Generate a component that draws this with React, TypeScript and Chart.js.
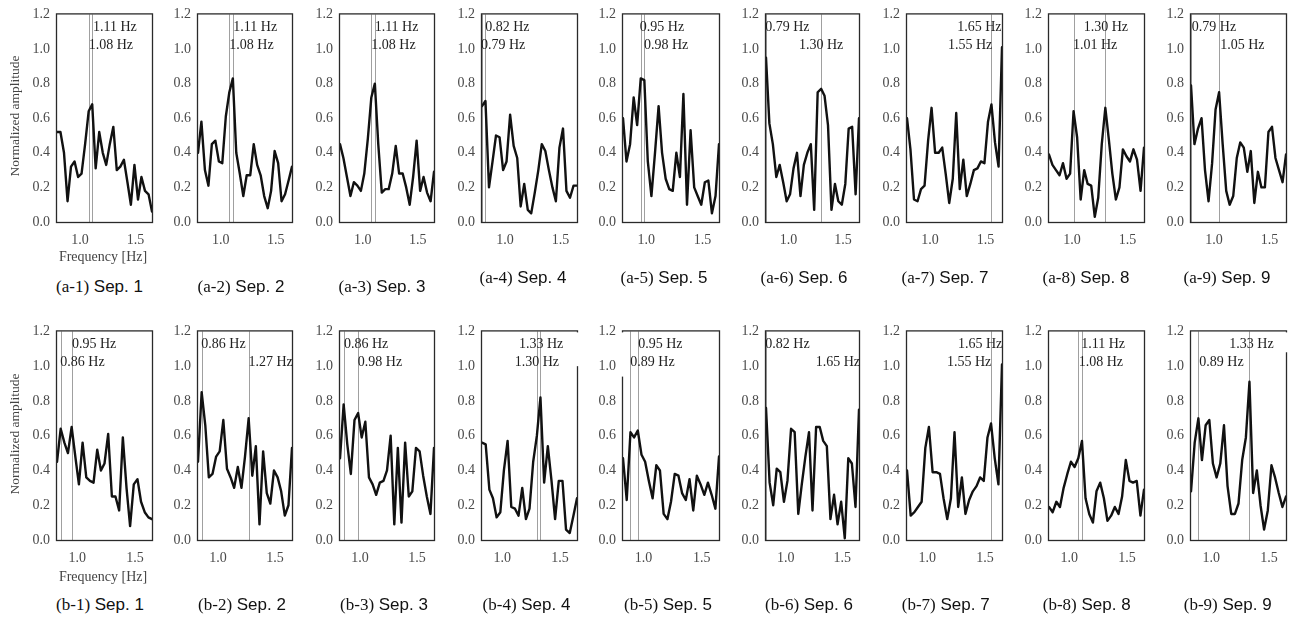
import React, { useEffect, useRef } from 'react';
import { Chart, registerables } from 'chart.js';

Chart.register(...registerables);

// ---------- data ----------
const FREQ_A = [0.793, 0.824, 0.856, 0.888, 0.919, 0.951, 0.983, 1.014, 1.046, 1.078, 1.110, 1.141, 1.173, 1.205, 1.236, 1.268, 1.300, 1.331, 1.363, 1.395, 1.427, 1.458, 1.490, 1.522, 1.553, 1.585, 1.617, 1.648];
const FREQ_B = [0.824, 0.856, 0.888, 0.919, 0.951, 0.983, 1.014, 1.046, 1.078, 1.110, 1.141, 1.173, 1.205, 1.236, 1.268, 1.300, 1.331, 1.363, 1.395, 1.427, 1.458, 1.490, 1.522, 1.553, 1.585, 1.617, 1.648];

const X_TICKS = [1.0, 1.5];
const Y_TICKS = [0.0, 0.2, 0.4, 0.6, 0.8, 1.0, 1.2];

const A1 = [0.52, 0.52, 0.40, 0.12, 0.32, 0.35, 0.26, 0.28, 0.45, 0.64, 0.68, 0.31, 0.52, 0.40, 0.33, 0.45, 0.55, 0.30, 0.32, 0.36, 0.23, 0.10, 0.33, 0.13, 0.26, 0.18, 0.16, 0.06];
const A2 = [0.40, 0.58, 0.30, 0.21, 0.45, 0.47, 0.35, 0.34, 0.61, 0.75, 0.83, 0.40, 0.28, 0.15, 0.27, 0.27, 0.45, 0.33, 0.27, 0.15, 0.08, 0.18, 0.41, 0.34, 0.12, 0.16, 0.24, 0.32];
const A3 = [0.45, 0.37, 0.26, 0.15, 0.23, 0.21, 0.18, 0.28, 0.48, 0.72, 0.80, 0.45, 0.17, 0.19, 0.19, 0.28, 0.44, 0.28, 0.28, 0.20, 0.10, 0.26, 0.47, 0.18, 0.26, 0.17, 0.12, 0.29];
const A4 = [0.67, 0.70, 0.20, 0.35, 0.50, 0.49, 0.30, 0.35, 0.62, 0.44, 0.37, 0.09, 0.22, 0.07, 0.05, 0.17, 0.30, 0.45, 0.41, 0.30, 0.20, 0.12, 0.43, 0.54, 0.18, 0.14, 0.21, 0.21];
const A5 = [0.60, 0.35, 0.45, 0.72, 0.56, 0.83, 0.82, 0.35, 0.15, 0.40, 0.67, 0.40, 0.25, 0.19, 0.18, 0.40, 0.26, 0.74, 0.10, 0.53, 0.20, 0.15, 0.10, 0.23, 0.24, 0.05, 0.15, 0.45];
const A6 = [0.95, 0.57, 0.45, 0.26, 0.33, 0.23, 0.12, 0.16, 0.31, 0.40, 0.15, 0.33, 0.40, 0.45, 0.07, 0.75, 0.77, 0.73, 0.56, 0.07, 0.22, 0.12, 0.10, 0.22, 0.54, 0.55, 0.16, 0.60];
const A7 = [0.60, 0.42, 0.13, 0.12, 0.19, 0.21, 0.47, 0.66, 0.40, 0.40, 0.43, 0.28, 0.11, 0.25, 0.63, 0.19, 0.36, 0.15, 0.22, 0.30, 0.31, 0.35, 0.34, 0.58, 0.68, 0.46, 0.32, 1.01];
const A8 = [0.39, 0.33, 0.30, 0.27, 0.34, 0.25, 0.28, 0.64, 0.49, 0.13, 0.30, 0.22, 0.21, 0.03, 0.14, 0.45, 0.66, 0.48, 0.28, 0.13, 0.20, 0.42, 0.38, 0.35, 0.42, 0.36, 0.18, 0.43];
const A9 = [0.79, 0.45, 0.54, 0.60, 0.30, 0.12, 0.34, 0.65, 0.75, 0.45, 0.18, 0.10, 0.15, 0.37, 0.46, 0.43, 0.29, 0.41, 0.11, 0.29, 0.20, 0.20, 0.52, 0.55, 0.37, 0.30, 0.23, 0.39];

const B1 = [0.45, 0.64, 0.56, 0.50, 0.65, 0.48, 0.32, 0.56, 0.36, 0.34, 0.33, 0.52, 0.40, 0.44, 0.61, 0.25, 0.25, 0.17, 0.59, 0.30, 0.08, 0.32, 0.35, 0.22, 0.16, 0.13, 0.12];
const B2 = [0.45, 0.85, 0.66, 0.36, 0.38, 0.48, 0.51, 0.69, 0.41, 0.36, 0.30, 0.42, 0.30, 0.48, 0.70, 0.37, 0.54, 0.09, 0.51, 0.27, 0.21, 0.40, 0.36, 0.28, 0.14, 0.20, 0.53];
const B3 = [0.47, 0.78, 0.55, 0.38, 0.69, 0.73, 0.59, 0.68, 0.36, 0.32, 0.26, 0.33, 0.34, 0.40, 0.60, 0.09, 0.53, 0.10, 0.56, 0.25, 0.28, 0.53, 0.51, 0.37, 0.25, 0.15, 0.53];
const B4 = [0.56, 0.55, 0.29, 0.24, 0.13, 0.16, 0.40, 0.57, 0.19, 0.18, 0.14, 0.30, 0.12, 0.18, 0.45, 0.60, 0.82, 0.33, 0.54, 0.34, 0.12, 0.34, 0.34, 0.06, 0.04, 0.14, 0.24];
const B5 = [0.47, 0.23, 0.62, 0.59, 0.63, 0.49, 0.45, 0.34, 0.24, 0.43, 0.40, 0.15, 0.12, 0.22, 0.38, 0.37, 0.27, 0.23, 0.35, 0.17, 0.37, 0.32, 0.26, 0.33, 0.26, 0.18, 0.48];
const B6 = [0.76, 0.33, 0.20, 0.41, 0.39, 0.22, 0.34, 0.64, 0.62, 0.15, 0.32, 0.48, 0.62, 0.17, 0.65, 0.65, 0.57, 0.54, 0.12, 0.26, 0.09, 0.22, 0.01, 0.47, 0.44, 0.19, 0.75];
const B7 = [0.40, 0.14, 0.16, 0.19, 0.22, 0.53, 0.65, 0.39, 0.39, 0.38, 0.24, 0.12, 0.24, 0.62, 0.19, 0.36, 0.15, 0.23, 0.28, 0.31, 0.36, 0.34, 0.59, 0.67, 0.47, 0.32, 1.01];
const B8 = [0.19, 0.16, 0.22, 0.19, 0.30, 0.38, 0.45, 0.42, 0.47, 0.57, 0.24, 0.15, 0.10, 0.28, 0.33, 0.24, 0.11, 0.14, 0.19, 0.15, 0.25, 0.46, 0.34, 0.33, 0.34, 0.14, 0.29];
const B9 = [0.28, 0.56, 0.70, 0.46, 0.66, 0.69, 0.44, 0.36, 0.44, 0.66, 0.31, 0.15, 0.15, 0.21, 0.46, 0.59, 0.91, 0.27, 0.40, 0.20, 0.06, 0.17, 0.43, 0.36, 0.27, 0.19, 0.25];

// identified peak frequencies (vertical lines) per panel
const PEAKS_A = [[1.078, 1.110], [1.078, 1.110], [1.078, 1.110], [0.793, 0.824], [0.951, 0.983], [0.793, 1.300], [1.648, 1.553], [1.300, 1.014], [0.793, 1.046]];
const PEAKS_B = [[0.951, 0.856], [0.856, 1.268], [0.856, 0.983], [1.331, 1.300], [0.951, 0.888], [0.824, 1.648], [1.648, 1.553], [1.110, 1.078], [1.331, 0.888]];

// peak labels (first line, second line)
const LABELS_A = [['1.11 Hz', '1.08 Hz'], ['1.11 Hz', '1.08 Hz'], ['1.11 Hz', '1.08 Hz'], ['0.82 Hz', '0.79 Hz'], ['0.95 Hz', '0.98 Hz'], ['0.79 Hz', '1.30 Hz'], ['1.65 Hz', '1.55 Hz'], ['1.30 Hz', '1.01 Hz'], ['0.79 Hz', '1.05 Hz']];
const LABELS_B = [['0.95 Hz', '0.86 Hz'], ['0.86 Hz', '1.27 Hz'], ['0.86 Hz', '0.98 Hz'], ['1.33 Hz', '1.30 Hz'], ['0.95 Hz', '0.89 Hz'], ['0.82 Hz', '1.65 Hz'], ['1.65 Hz', '1.55 Hz'], ['1.11 Hz', '1.08 Hz'], ['1.33 Hz', '0.89 Hz']];
// label anchor (left edge of text) on the frequency axis
const LABEL_X_A = [[1.117, 1.078], [1.114, 1.078], [1.108, 1.078], [0.822, 0.784], [0.943, 0.979], [0.786, 1.096], [1.245, 1.162], [1.105, 1.008], [0.800, 1.056]];
const LABEL_X_B = [[0.954, 0.853], [0.853, 1.266], [0.859, 0.980], [1.145, 1.108], [0.954, 0.887], [0.818, 1.264], [1.266, 1.171], [1.104, 1.082], [1.156, 0.896]];

const CAPTION_IDS_A = ['(a-1)', '(a-2)', '(a-3)', '(a-4)', '(a-5)', '(a-6)', '(a-7)', '(a-8)', '(a-9)'];
const CAPTION_IDS_B = ['(b-1)', '(b-2)', '(b-3)', '(b-4)', '(b-5)', '(b-6)', '(b-7)', '(b-8)', '(b-9)'];
const CAPTION_SEPS = ['Sep. 1', 'Sep. 2', 'Sep. 3', 'Sep. 4', 'Sep. 5', 'Sep. 6', 'Sep. 7', 'Sep. 8', 'Sep. 9'];

const SERIES_A = [A1, A2, A3, A4, A5, A6, A7, A8, A9];
const SERIES_B = [B1, B2, B3, B4, B5, B6, B7, B8, B9];

// ---------- layout ----------
const COL_LEFT = [57, 198, 340, 482, 623, 766, 907, 1049, 1191];
const COL_RIGHT = [152, 292, 434, 577, 719, 859, 1002, 1144, 1286];
const ROW_TOP = [9, 326];
const ROW_BOTTOM = [222, 540];
const CAP_X = [
  [99.5, 241, 382, 523, 664, 804, 945, 1086, 1227],
  [100, 242, 384, 526.5, 668, 809, 945.7, 1086.7, 1227.7],
];
const CAP_Y = [[287, 287, 287, 278, 278, 278, 278, 278, 278], [605, 605, 605, 605, 605, 605, 605, 605, 605]];
// white label boxes hiding part of the frame in a few panels
const MASKS: Record<string, { side: 'left' | 'right'; to: number }> = {
  '1-3': { side: 'right', to: 1.0 },
  '1-4': { side: 'left', to: 0.94 },
  '1-8': { side: 'right', to: 1.08 },
};

const SERIF = '"Liberation Serif", "Times New Roman", serif';
const SANS = '"Liberation Sans", Arial, sans-serif';

const PAD_L = 50, PAD_R = 10, PAD_T = 10, PAD_B = 40;

const decoPlugin = {
  id: 'deco',
  beforeDatasetsDraw(chart: any, _a: any, opts: any) {
    const { ctx, chartArea } = chart;
    const xs = chart.scales.x;
    ctx.save();
    ctx.strokeStyle = '#a0a0a0';
    ctx.lineWidth = 1;
    (opts.peaks || []).forEach((f: number) => {
      const x = Math.round(xs.getPixelForValue(f)) + 0.5;
      ctx.beginPath();
      ctx.moveTo(x, chartArea.top);
      ctx.lineTo(x, chartArea.bottom);
      ctx.stroke();
    });
    ctx.restore();
  },
  afterDatasetsDraw(chart: any, _a: any, opts: any) {
    const { ctx, chartArea } = chart;
    const xs = chart.scales.x;
    const ys = chart.scales.y;
    ctx.save();
    ctx.strokeStyle = '#2a2a2a';
    ctx.lineWidth = 1.3;
    ctx.strokeRect(chartArea.left - 0.5, chartArea.top - 0.5, chartArea.width + 1, chartArea.height + 1);
    if (opts.mask) {
      const x = opts.mask.side === 'right' ? chartArea.right + 0.5 : chartArea.left - 0.5;
      const yb = ys.getPixelForValue(opts.mask.to);
      ctx.fillStyle = '#ffffff';
      ctx.fillRect(x - 2, chartArea.top + 1, 4, yb - chartArea.top - 1);
    }
    ctx.fillStyle = '#222';
    ctx.font = `14px ${SERIF}`;
    ctx.textAlign = 'left';
    ctx.textBaseline = 'middle';
    const offs = [13, 30.5];
    (opts.labels || []).forEach((t: string, i: number) => {
      ctx.fillText(t, xs.getPixelForValue(opts.labelX[i]), chartArea.top + offs[i]);
    });
    ctx.restore();
  },
};

type PanelProps = {
  left: number; right: number; top: number; bottom: number;
  freq: number[]; values: number[]; peaks: number[]; labels: string[]; labelX: number[];
  mask?: { side: 'left' | 'right'; to: number };
};

function Panel(p: PanelProps) {
  const ref = useRef<HTMLCanvasElement>(null);
  const w = p.right - p.left + PAD_L + PAD_R;
  const h = p.bottom - p.top + PAD_T + PAD_B;
  useEffect(() => {
    const tickFont = { family: SERIF, size: 14 };
    const chart = new Chart(ref.current as HTMLCanvasElement, {
      type: 'line',
      data: {
        datasets: [{
          data: p.freq.map((f, i) => ({ x: f, y: p.values[i] })),
          borderColor: '#111',
          borderWidth: 2.4,
          pointRadius: 0,
          tension: 0,
          fill: false,
          borderJoinStyle: 'round',
          borderCapStyle: 'round',
        }],
      },
      options: {
        animation: false,
        responsive: false,
        devicePixelRatio: 1,
        events: [],
        layout: { padding: { left: 0, right: PAD_R, top: PAD_T, bottom: 0 } },
        plugins: {
          legend: { display: false },
          tooltip: { enabled: false },
          deco: { peaks: p.peaks, labels: p.labels, labelX: p.labelX, mask: p.mask },
        } as any,
        scales: {
          x: {
            type: 'linear',
            min: p.freq[0],
            max: p.freq[p.freq.length - 1],
            afterFit: (s: any) => { s.height = PAD_B; },
            afterBuildTicks: (s: any) => { s.ticks = X_TICKS.map((v) => ({ value: v })); },
            grid: { display: false, drawTicks: false },
            border: { display: false },
            ticks: { padding: 10, color: '#4a4a4a', font: tickFont, maxRotation: 0, autoSkip: false, callback: (v: any) => Number(v).toFixed(1) },
          },
          y: {
            type: 'linear',
            min: 0,
            max: 1.2,
            afterFit: (s: any) => { s.width = PAD_L; },
            afterBuildTicks: (s: any) => { s.ticks = Y_TICKS.map((v) => ({ value: v })); },
            grid: { display: false, drawTicks: false },
            border: { display: false },
            ticks: { padding: 7, color: '#4a4a4a', font: tickFont, autoSkip: false, callback: (v: any) => Number(v).toFixed(1) },
          },
        },
      } as any,
      plugins: [decoPlugin as any],
    });
    return () => chart.destroy();
  }, []);
  return (
    <canvas
      ref={ref}
      width={w}
      height={h}
      style={{ position: 'absolute', left: p.left - PAD_L, top: p.top - PAD_T, width: w, height: h }}
    />
  );
}

export default function App() {
  const rows = [
    { series: SERIES_A, freq: FREQ_A, peaks: PEAKS_A, labels: LABELS_A, labelX: LABEL_X_A, ids: CAPTION_IDS_A },
    { series: SERIES_B, freq: FREQ_B, peaks: PEAKS_B, labels: LABELS_B, labelX: LABEL_X_B, ids: CAPTION_IDS_B },
  ];
  const yTitleY = [116, 434];
  const xTitleY = [257, 577];
  return (
    <div style={{ position: 'absolute', left: 0, top: 0, width: 1296, height: 617, background: '#fff', overflow: 'hidden' }}>
      {rows.map((r, ri) =>
        r.series.map((vals, ci) => (
          <Panel
            key={`${ri}-${ci}`}
            left={COL_LEFT[ci]}
            right={COL_RIGHT[ci]}
            top={ROW_TOP[ri]}
            bottom={ROW_BOTTOM[ri]}
            freq={r.freq}
            values={vals}
            peaks={r.peaks[ci]}
            labels={r.labels[ci]}
            labelX={r.labelX[ci]}
            mask={MASKS[`${ri}-${ci}`]}
          />
        ))
      )}
      {rows.map((r, ri) =>
        r.ids.map((id, ci) => (
          <div
            key={`cap-${ri}-${ci}`}
            style={{
              position: 'absolute', left: CAP_X[ri][ci], top: CAP_Y[ri][ci],
              transform: 'translate(-50%, -50%)', whiteSpace: 'nowrap', fontSize: 17, color: '#111', lineHeight: '20px',
            }}
          >
            <span style={{ fontFamily: SERIF }}>{id}</span>
            <span style={{ fontFamily: SANS }}> {CAPTION_SEPS[ci]}</span>
          </div>
        ))
      )}
      {yTitleY.map((y, i) => (
        <div
          key={`yt-${i}`}
          style={{
            position: 'absolute', left: 15, top: y, transform: 'translate(-50%, -50%) rotate(-90deg)',
            whiteSpace: 'nowrap', fontFamily: SERIF, fontSize: 13.5, color: '#444', lineHeight: '16px',
          }}
        >
          Normalized amplitude
        </div>
      ))}
      {xTitleY.map((y, i) => (
        <div
          key={`xt-${i}`}
          style={{
            position: 'absolute', left: 103, top: y, transform: 'translate(-50%, -50%)',
            whiteSpace: 'nowrap', fontFamily: SERIF, fontSize: 14, color: '#444', lineHeight: '16px',
          }}
        >
          Frequency [Hz]
        </div>
      ))}
    </div>
  );
}
